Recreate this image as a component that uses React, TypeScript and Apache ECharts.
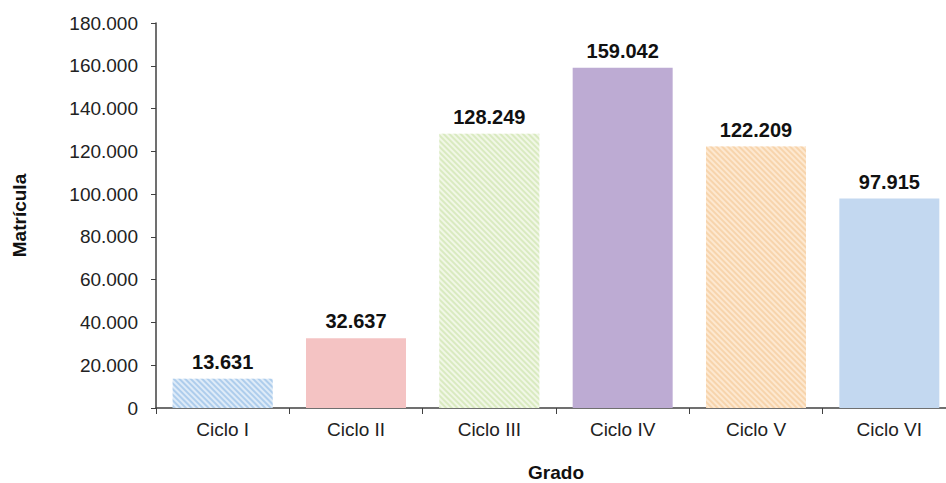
import React, { useEffect, useRef } from "react";
import * as echarts from "echarts";

const categories = ["Ciclo I", "Ciclo II", "Ciclo III", "Ciclo IV", "Ciclo V", "Ciclo VI"];
const values = [13631, 32637, 128249, 159042, 122209, 97915];
const barColors = ["#deebf8", "#f4c3c3", "#f1f7e6", "#bdabd3", "#fde8d0", "#c3d8f0"];
const stripeColors = ["#aecdec", null, "#d9eac0", null, "#f7d4ac", null];

const fmt = (v: number) => String(Math.round(v)).replace(/\B(?=(\d{3})+(?!\d))/g, ".");

export default function App() {
  const ref = useRef<HTMLDivElement>(null);
  useEffect(() => {
    if (!ref.current) return;
    const chart = echarts.init(ref.current, null, { renderer: "svg" });
    const font = "Liberation Sans, Arial, sans-serif";
    chart.setOption({
      animation: false,
      backgroundColor: "#ffffff",
      grid: { left: 156, top: 23, right: 4, bottom: 75, containLabel: false, outerBoundsMode: "none" },
      xAxis: {
        type: "category",
        data: categories,
        axisLine: { lineStyle: { color: "#404040", width: 1.5 } },
        axisTick: { show: true, length: 6, lineStyle: { color: "#404040" } },
        axisLabel: { color: "#222", fontSize: 19, fontFamily: font, margin: 12 },
        name: "Grado",
        nameLocation: "middle",
        nameGap: 55,
        nameTextStyle: { color: "#111", fontSize: 19, fontWeight: "bold", fontFamily: font },
      },
      yAxis: {
        type: "value",
        min: 0,
        max: 180000,
        interval: 20000,
        splitLine: { show: false },
        axisLine: { show: true, lineStyle: { color: "#404040", width: 1.5 } },
        axisTick: { show: true, length: 5, lineStyle: { color: "#404040" } },
        axisLabel: { color: "#222", fontSize: 19, fontFamily: font, margin: 18, formatter: (v: number) => fmt(v) },
        name: "Matrícula",
        nameLocation: "middle",
        nameGap: 127,
        nameTextStyle: { color: "#111", fontSize: 19, fontWeight: "bold", fontFamily: font },
      },
      series: [
        {
          type: "bar",
          barCategoryGap: "25%",
          data: values.map((v, i) => ({
            value: v,
            itemStyle: {
              color: barColors[i],
              decal: stripeColors[i]
                ? {
                    symbol: "rect",
                    symbolSize: 1,
                    color: stripeColors[i],
                    dashArrayX: [1, 0],
                    dashArrayY: [1.2, 1.6],
                    rotation: Math.PI / 4,
                  }
                : "none",
            },
          })),
          label: {
            show: true,
            position: "top",
            distance: 7,
            color: "#111",
            fontSize: 20,
            fontWeight: "bold",
            fontFamily: font,
            formatter: (p: any) => fmt(p.value),
          },
        },
      ],
      aria: { enabled: false },
    });
    return () => chart.dispose();
  }, []);
  return (
    <div style={{ position: "fixed", left: 0, top: 0, width: 946, height: 483, overflow: "hidden", background: "#fff" }}>
      <div ref={ref} style={{ position: "absolute", left: 0, top: 0, width: 960, height: 483 }} />
    </div>
  );
}
